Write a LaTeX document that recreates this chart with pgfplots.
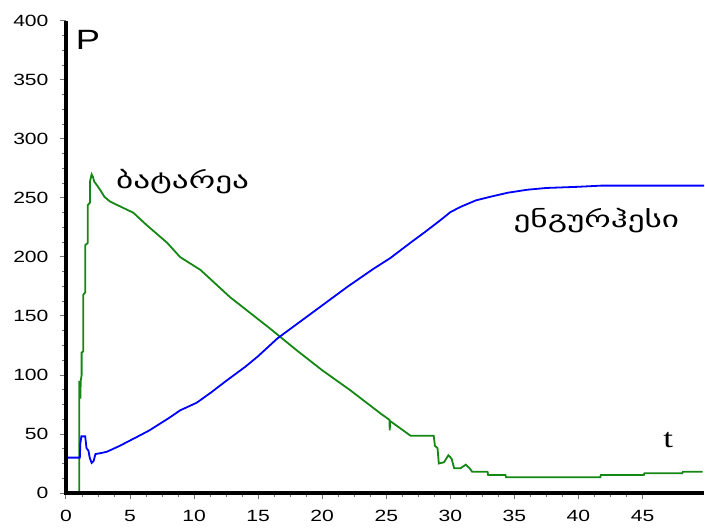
\documentclass[border=0pt]{standalone}
\usepackage{fontspec}
\setmainfont[FakeStretch=1.3]{Liberation Sans}
\newfontfamily\geo[FakeStretch=1.45]{DejaVu Sans}
\newfontfamily\serif[FakeStretch=1.3]{Liberation Serif}
\usepackage{pgfplots}
\pgfplotsset{compat=1.18}
\definecolor{grn}{RGB}{20,135,20}
\definecolor{blu}{RGB}{0,0,255}
\begin{document}
\begin{tikzpicture}
\begin{axis}[name=ax, scale only axis, width=638bp, height=472bp,
  xmin=0, xmax=49.8, ymin=0, ymax=400,
  axis lines=left, axis line style={-, line width=3.5bp, black},
  x axis line style={line width=3.5bp}, y axis line style={line width=3.5bp},
  xtick={0,5,...,45}, ytick={0,50,...,400}, minor tick num=3,
  tick align=outside, major tick length=6bp, minor tick length=4bp,
  every tick/.style={black!55, line width=1bp},
  ticklabel style={font=\fontsize{16.3}{18}\selectfont, black},
  xticklabel style={yshift=-8bp},
  yticklabel style={xshift=-8bp},
  /pgf/number format/assume math mode=true,
  clip=false]
\addplot[grn, line width=1.8bp] coordinates {
(1.04,0) (1.04,95) (1.12,80) (1.15,95) (1.22,100) (1.22,119) (1.35,120) (1.35,168)
(1.5,170) (1.5,210) (1.7,212) (1.7,244) (1.87,246) (1.87,264) (2.0,270) (2.1,268)
(2.2,264) (2.4,261) (2.66,257) (3.0,251) (3.44,247) (4.2,243) (5.26,237.5) (6.3,227)
(7.9,212) (8.9,200) (10.5,189) (12.8,166) (15.9,139.6) (18,121) (20,104) (22.2,87)
(24.6,67) (25.25,62) (25.27,53) (25.3,61) (26.9,48.5) (28.7,48.5) (28.8,40) (29.0,38)
(29.1,25) (29.5,26) (29.85,32) (30.1,29) (30.3,21) (30.8,21) (31.2,24) (31.5,21)
(31.7,18) (32.9,18) (32.95,15.2) (34.3,15.2) (34.35,13.3) (41.7,13.3) (41.75,15.2)
(45.1,15.2) (45.15,16.7) (48.1,16.7) (48.15,18) (49.7,18)
};
\addplot[blu, line width=1.8bp] coordinates {
(0,30) (1.08,30) (1.12,42) (1.2,48) (1.5,48) (1.6,38) (1.75,36) (1.85,30) (2.0,25.5)
(2.15,27) (2.3,33) (2.8,34) (3.2,35) (3.6,37) (4.2,40) (5,44.5) (5.8,49) (6.5,53)
(7.3,58.5) (8.1,64) (8.9,70) (10.2,76.5) (11.3,85) (12.5,95) (14,107) (15,116)
(16.5,131) (18,143) (20,159) (22,175) (24,190) (25.3,199) (27,213) (28,221)
(29.2,231) (30,238) (30.8,242.5) (32,248) (33.1,251) (34.5,254.5) (36,257)
(37.5,258.5) (40,259.5) (41.8,260.5) (45,260.5) (49.8,260.5)
};
\draw[line width=3.5bp, black] (rel axis cs:0,1) -- (rel axis cs:0,0) -- (rel axis cs:1,0);
\node[anchor=west, inner sep=0pt, font=\fontsize{28}{30}\selectfont] at (axis cs:0.75,384) {P};
\node[inner sep=0pt, font=\serif\fontsize{27}{30}\selectfont] at (axis cs:47,45) {t};
\node[inner sep=0pt, font=\geo\fontsize{23}{26}\selectfont] at (axis cs:9.1,264) {ბატარეა};
\node[inner sep=0pt, font=\geo\fontsize{23}{26}\selectfont] at (axis cs:41.4,231) {ენგურჰესი};
\end{axis}
\pgfresetboundingbox
\path ([shift={(-66bp,-35bp)}]ax.south west) rectangle ([shift={(1bp,21bp)}]ax.north east);
\end{tikzpicture}
\end{document}
